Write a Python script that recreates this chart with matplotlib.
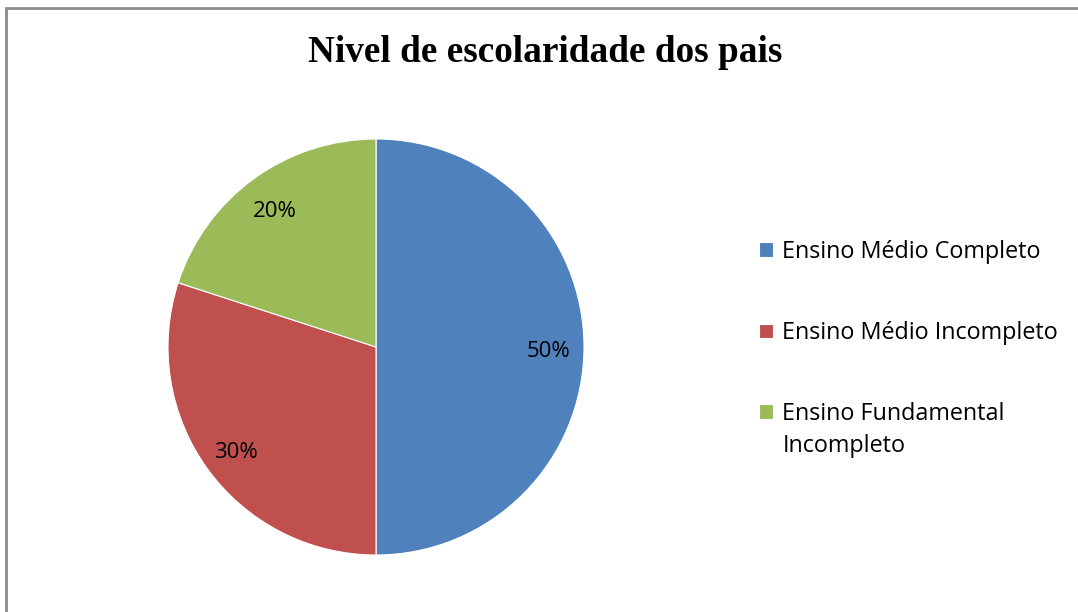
import matplotlib.pyplot as plt
from matplotlib.patches import Rectangle
from matplotlib.legend_handler import HandlerPatch

categorias = ["Ensino Médio Completo", "Ensino Médio Incompleto", "Ensino Fundamental\nIncompleto"]
valores = [50, 30, 20]
cores = ["#4F81BD", "#C0504D", "#9BBB59"]


class HandlerPrimeiraLinha(HandlerPatch):
    # sobe o quadradinho para ficar na altura da primeira linha do rotulo
    def __init__(self, dy):
        super().__init__()
        self.dy = dy

    def create_artists(self, legend, orig_handle, xdescent, ydescent, width, height, fontsize, trans):
        return super().create_artists(legend, orig_handle, xdescent, ydescent - self.dy,
                                      width, height, fontsize, trans)


fig = plt.figure(figsize=(10.78, 6.12), dpi=100)

# moldura do grafico (so aparece em cima e a esquerda)
fig.patches.append(Rectangle((6 / 1078, -0.1), 1.2, (612 - 8) / 612 + 0.1,
                             transform=fig.transFigure, fill=False,
                             edgecolor="#8c8c8c", linewidth=2))

ax = fig.add_axes([(376 - 208) / 1078, (265 - 208) / 612, 416 / 1078, 416 / 612])
fatias, _, textos = ax.pie(valores, colors=cores, startangle=90, counterclock=False,
                           autopct="%1.0f%%", pctdistance=0.83, radius=1,
                           wedgeprops=dict(edgecolor="white", linewidth=0.8),
                           textprops=dict(fontsize=16, family="Open Sans", color="black"))
for t in textos:
    x, y = t.get_position()
    t.set_position((x, y - 0.02))
ax.set_xlim(-1, 1)
ax.set_ylim(-1, 1)
ax.set_aspect("equal")

fig.text(545 / 1078, 1 - 53 / 612, "Nivel de escolaridade dos pais", ha="center", va="center",
         fontsize=26.8, fontweight="bold", family="Liberation Serif")

leg = fig.legend(fatias, categorias, loc="upper left", bbox_to_anchor=(738 / 1078, 1 - 219 / 612),
                 frameon=False, prop=dict(family="Open Sans", size=16.8),
                 handlelength=0.6, handleheight=0.6, handletextpad=0.4, labelspacing=2.45,
                 handler_map={fatias[2]: HandlerPrimeiraLinha(14)})
for t in leg.get_texts():
    t.set_linespacing(1.4)

fig.savefig("out.png", dpi=100)
